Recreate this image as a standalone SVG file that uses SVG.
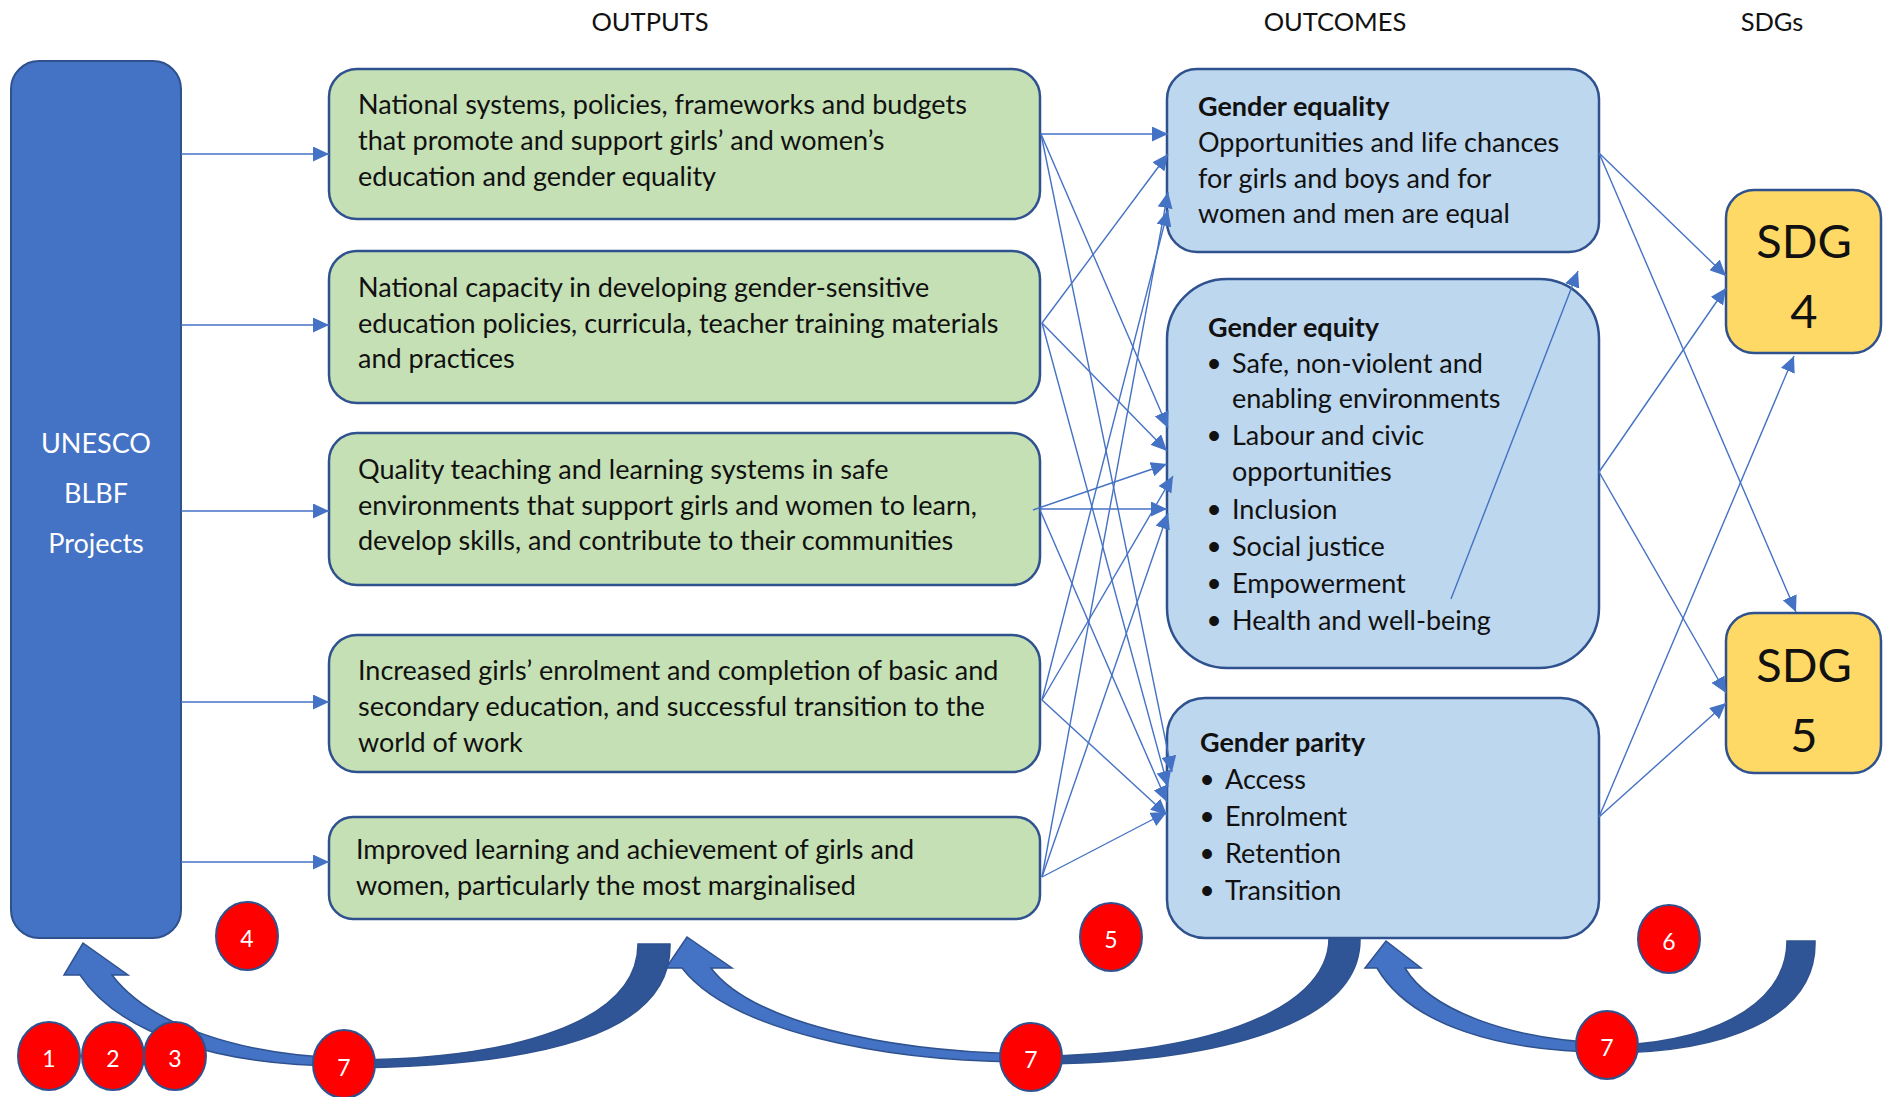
<svg xmlns="http://www.w3.org/2000/svg" width="1883" height="1097" viewBox="0 0 1883 1097">
<style>
.t{font-family:Lato,"Open Sans","Liberation Sans",sans-serif;font-size:27px;fill:#111}
.bd{font-weight:bold}
.hd{font-size:25.5px;text-anchor:middle}
.wt{fill:#fff;text-anchor:middle}
.sdg{font-size:47px;text-anchor:middle}
.num{font-family:Lato,"Open Sans",sans-serif;font-size:23px;fill:#fff;text-anchor:middle}
.bul{font-family:"Liberation Sans",Arial,sans-serif;font-size:36px;fill:#111;text-anchor:middle}
.out{fill:#C5E0B4;stroke:#2F528F;stroke-width:2.5}
.oc{fill:#BDD7EE;stroke:#2F528F;stroke-width:2.5}
.sd{fill:#FFD966;stroke:#2F528F;stroke-width:2.5}
.red{fill:#FF0000;stroke:#2F528F;stroke-width:2}
.cn line{stroke:#4472C4;stroke-width:1.4;marker-end:url(#ah)}
.lt{fill:#4472C4;stroke:#2F528F;stroke-width:1.5}
.dk{fill:#2F5597;stroke:#2F528F;stroke-width:1.5}
</style>
<defs>
<marker id="ah" markerUnits="userSpaceOnUse" markerWidth="16" markerHeight="15" refX="16" refY="7.5" orient="auto">
<path d="M0,0 L16,7.5 L0,15 Z" fill="#4472C4"/>
</marker>
</defs>

<g id="headers">
<text class="t hd" x="650" y="31">OUTPUTS</text>
<text class="t hd" x="1335" y="31">OUTCOMES</text>
<text class="t hd" x="1772" y="31">SDGs</text>
</g>

<g id="curved-arrows">
<path class="dk" d="M670,944 C672,1035 540,1066 344,1068 L344,1060 C520,1060 638,1020 638,944 Z"/>
<path class="lt" d="M344,1066 C220,1066 120,1035 80,975 L64,975 L83,943 L128,975 L112,975 C150,1025 240,1055 344,1058 Z"/>
<path class="dk" d="M1360,938 C1362,1030 1200,1064 1031,1064 L1031,1056 C1190,1056 1329,1015 1329,938 Z"/>
<path class="lt" d="M1031,1062 C880,1062 730,1030 682,968 L666,968 L687,937 L732,968 L711,968 C750,1020 880,1052 1031,1054 Z"/>
<path class="dk" d="M1815,941 C1817,1020 1720,1053 1607,1053 L1607,1045 C1700,1045 1787,1010 1787,941 Z"/>
<path class="lt" d="M1607,1052 C1500,1052 1410,1025 1377,968 L1365,968 L1386,941 L1421,968 L1405,968 C1430,1010 1510,1040 1607,1043 Z"/>
</g>

<g id="unesco">
<rect x="11" y="61" width="170" height="877" rx="28" fill="#4472C4" stroke="#2F528F" stroke-width="2"/>
<text class="t wt" x="96" y="453">UNESCO</text>
<text class="t wt" x="96" y="503">BLBF</text>
<text class="t wt" x="96" y="553">Projects</text>
</g>

<g id="output1">
<rect class="out" x="329" y="69" width="711" height="150" rx="28"/>
<text class="t" x="358" y="114">National systems, policies, frameworks and budgets</text>
<text class="t" x="358" y="150">that promote and support girls’ and women’s</text>
<text class="t" x="358" y="186">education and gender equality</text>
</g>
<g id="output2">
<rect class="out" x="329" y="251" width="711" height="152" rx="28"/>
<text class="t" x="358" y="297">National capacity in developing gender-sensitive</text>
<text class="t" x="358" y="333">education policies, curricula, teacher training materials</text>
<text class="t" x="358" y="368">and practices</text>
</g>
<g id="output3">
<rect class="out" x="329" y="433" width="711" height="152" rx="28"/>
<text class="t" x="358" y="479">Quality teaching and learning systems in safe</text>
<text class="t" x="358" y="515">environments that support girls and women to learn,</text>
<text class="t" x="358" y="550">develop skills, and contribute to their communities</text>
</g>
<g id="output4">
<rect class="out" x="329" y="635" width="711" height="137" rx="28"/>
<text class="t" x="358" y="680">Increased girls’ enrolment and completion of basic and</text>
<text class="t" x="358" y="716">secondary education, and successful transition to the</text>
<text class="t" x="358" y="752">world of work</text>
</g>
<g id="output5">
<rect class="out" x="329" y="817" width="711" height="102" rx="24"/>
<text class="t" x="356" y="859">Improved learning and achievement of girls and</text>
<text class="t" x="356" y="895">women, particularly the most marginalised</text>
</g>

<g id="outcome-equality">
<rect class="oc" x="1167" y="69" width="432" height="183" rx="30"/>
<text class="t bd" x="1198" y="116">Gender equality</text>
<text class="t" x="1198" y="152">Opportunities and life chances</text>
<text class="t" x="1198" y="188">for girls and boys and for</text>
<text class="t" x="1198" y="223">women and men are equal</text>
</g>
<g id="outcome-equity">
<rect class="oc" x="1167" y="279" width="432" height="389" rx="60"/>
<text class="t bd" x="1208" y="337">Gender equity</text>
<text class="bul" x="1214" y="376">•</text><text class="t" x="1232" y="373">Safe, non-violent and</text>
<text class="t" x="1232" y="408">enabling environments</text>
<text class="bul" x="1214" y="448">•</text><text class="t" x="1232" y="445">Labour and civic</text>
<text class="t" x="1232" y="481">opportunities</text>
<text class="bul" x="1214" y="522">•</text><text class="t" x="1232" y="519">Inclusion</text>
<text class="bul" x="1214" y="559">•</text><text class="t" x="1232" y="556">Social justice</text>
<text class="bul" x="1214" y="596">•</text><text class="t" x="1232" y="593">Empowerment</text>
<text class="bul" x="1214" y="633">•</text><text class="t" x="1232" y="630">Health and well-being</text>
</g>
<g id="outcome-parity">
<rect class="oc" x="1167" y="698" width="432" height="240" rx="38"/>
<text class="t bd" x="1200" y="752">Gender parity</text>
<text class="bul" x="1207" y="792">•</text><text class="t" x="1225" y="789">Access</text>
<text class="bul" x="1207" y="829">•</text><text class="t" x="1225" y="826">Enrolment</text>
<text class="bul" x="1207" y="866">•</text><text class="t" x="1225" y="863">Retention</text>
<text class="bul" x="1207" y="903">•</text><text class="t" x="1225" y="900">Transition</text>
</g>

<g id="sdg4">
<rect class="sd" x="1726" y="190" width="155" height="163" rx="28"/>
<text class="t sdg" x="1804" y="258">SDG</text>
<text class="t sdg" x="1804" y="328">4</text>
</g>
<g id="sdg5">
<rect class="sd" x="1726" y="613" width="155" height="160" rx="28"/>
<text class="t sdg" x="1804" y="682">SDG</text>
<text class="t sdg" x="1804" y="752">5</text>
</g>

<g id="connectors" class="cn">
<line x1="181" y1="154" x2="329" y2="154"/>
<line x1="181" y1="325" x2="329" y2="325"/>
<line x1="181" y1="511" x2="329" y2="511"/>
<line x1="181" y1="702" x2="329" y2="702"/>
<line x1="181" y1="862" x2="329" y2="862"/>

<line x1="1041" y1="134" x2="1168" y2="134"/>
<line x1="1041" y1="134" x2="1168" y2="428"/>
<line x1="1041" y1="134" x2="1172" y2="772"/>
<line x1="1042" y1="323" x2="1168" y2="154"/>
<line x1="1042" y1="323" x2="1167" y2="451"/>
<line x1="1042" y1="323" x2="1168" y2="787"/>
<line x1="1033" y1="510" x2="1167" y2="464"/>
<line x1="1040" y1="509" x2="1167" y2="509"/>
<line x1="1040" y1="510" x2="1167" y2="802"/>
<line x1="1042" y1="700" x2="1168" y2="210"/>
<line x1="1042" y1="700" x2="1173" y2="476"/>
<line x1="1042" y1="700" x2="1167" y2="815"/>
<line x1="1042" y1="877" x2="1168" y2="192"/>
<line x1="1042" y1="877" x2="1168" y2="513"/>
<line x1="1042" y1="877" x2="1167" y2="812"/>

<line x1="1599" y1="153" x2="1726" y2="276"/>
<line x1="1599" y1="153" x2="1796" y2="612"/>
<line x1="1599" y1="472" x2="1726" y2="288"/>
<line x1="1599" y1="472" x2="1726" y2="693"/>
<line x1="1599" y1="817" x2="1726" y2="703"/>
<line x1="1599" y1="817" x2="1794" y2="356"/>
<line x1="1451" y1="599" x2="1578" y2="271"/>
</g>

<g id="markers-numbered">
<g id="n4"><ellipse class="red" cx="247" cy="936" rx="31" ry="34"/><text class="num" x="247" y="947">4</text></g>
<g id="n5"><ellipse class="red" cx="1111" cy="937" rx="31" ry="34"/><text class="num" x="1111" y="948">5</text></g>
<g id="n6"><ellipse class="red" cx="1669" cy="939" rx="31" ry="34"/><text class="num" x="1669" y="950">6</text></g>
<g id="n1"><ellipse class="red" cx="49" cy="1056" rx="31" ry="34"/><text class="num" x="49" y="1067">1</text></g>
<g id="n2"><ellipse class="red" cx="113" cy="1056" rx="31" ry="34"/><text class="num" x="113" y="1067">2</text></g>
<g id="n3"><ellipse class="red" cx="175" cy="1056" rx="31" ry="34"/><text class="num" x="175" y="1067">3</text></g>
<g id="n7a"><ellipse class="red" cx="344" cy="1064" rx="31" ry="34"/><text class="num" x="344" y="1076">7</text></g>
<g id="n7b"><ellipse class="red" cx="1031" cy="1057" rx="31" ry="34"/><text class="num" x="1031" y="1068">7</text></g>
<g id="n7c"><ellipse class="red" cx="1607" cy="1045" rx="31" ry="34"/><text class="num" x="1607" y="1056">7</text></g>
</g>
</svg>
